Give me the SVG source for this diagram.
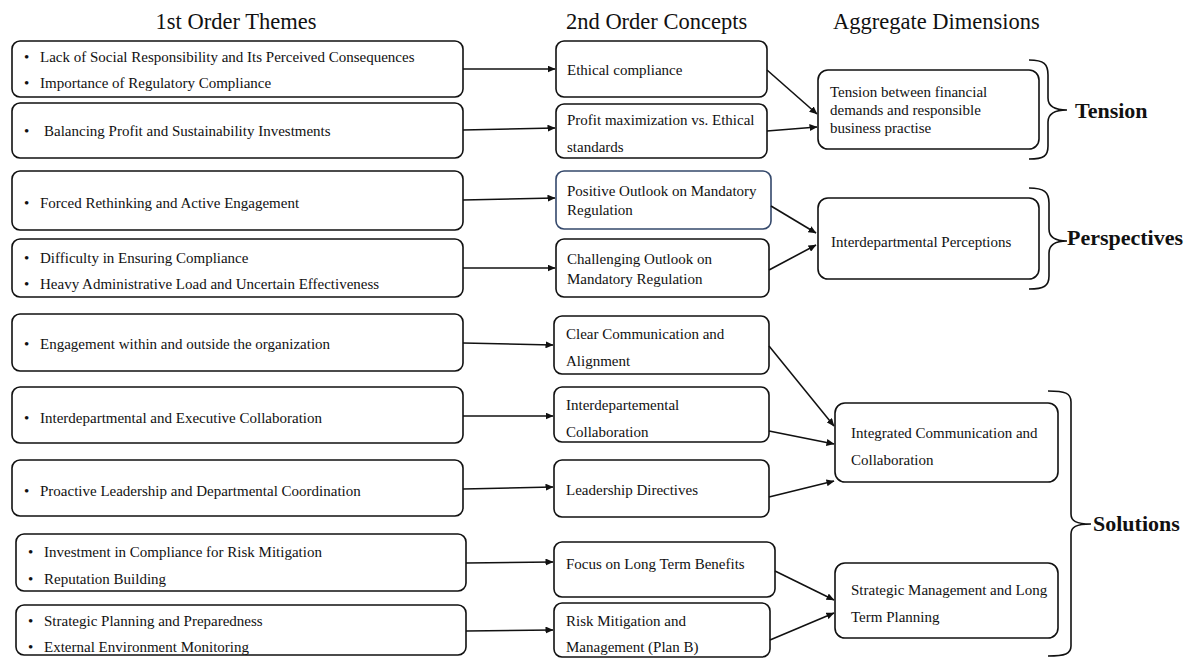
<svg xmlns="http://www.w3.org/2000/svg" width="1191" height="658" viewBox="0 0 1191 658">
<defs>
<marker id="ah" markerWidth="8" markerHeight="7" refX="7.5" refY="3.5" orient="auto" markerUnits="userSpaceOnUse">
<path d="M0,0 L8,3.5 L0,7 Z" fill="#111"/>
</marker>
<style>
text{font-family:"Liberation Serif","Times New Roman",serif;fill:#111;}
.h{font-size:22.5px;}
.t{font-size:15px;}
.b{font-size:22px;font-weight:bold;}
.box{fill:#fff;stroke:#111;stroke-width:1.6;}
.blue{stroke:#34486b;}
.c{fill:none;stroke:#111;stroke-width:1.6;marker-end:url(#ah);}
.br{fill:none;stroke:#111;stroke-width:1.6;}
</style>
</defs>
<rect width="1191" height="658" fill="#fff"/>
<g id="headers">
<text class="h" x="236" y="29" text-anchor="middle">1st Order Themes</text>
<text class="h" x="566" y="29">2nd Order Concepts</text>
<text class="h" x="833" y="29">Aggregate Dimensions</text>
</g>
<g id="L1"><rect class="box" x="12" y="41" width="451" height="56" rx="8"/>
<text class="t" x="24" y="62">•</text><text class="t" x="40" y="62">Lack of Social Responsibility and Its Perceived Consequences</text>
<text class="t" x="24" y="88">•</text><text class="t" x="40" y="88">Importance of Regulatory Compliance</text></g>
<g id="L2"><rect class="box" x="12" y="103" width="451" height="55" rx="8"/>
<text class="t" x="24" y="136">•</text><text class="t" x="44" y="136">Balancing Profit and Sustainability Investments</text></g>
<g id="L3"><rect class="box" x="12" y="171" width="451" height="59" rx="8"/>
<text class="t" x="24" y="208">•</text><text class="t" x="40" y="208">Forced Rethinking and Active Engagement</text></g>
<g id="L4"><rect class="box" x="12" y="239" width="451" height="58" rx="8"/>
<text class="t" x="24" y="263">•</text><text class="t" x="40" y="263">Difficulty in Ensuring Compliance</text>
<text class="t" x="24" y="289">•</text><text class="t" x="40" y="289">Heavy Administrative Load and Uncertain Effectiveness</text></g>
<g id="L5"><rect class="box" x="12" y="314" width="451" height="57" rx="8"/>
<text class="t" x="24" y="349">•</text><text class="t" x="40" y="349">Engagement within and outside the organization</text></g>
<g id="L6"><rect class="box" x="12" y="387" width="451" height="56" rx="8"/>
<text class="t" x="24" y="423">•</text><text class="t" x="40" y="423">Interdepartmental and Executive Collaboration</text></g>
<g id="L7"><rect class="box" x="12" y="460" width="451" height="56" rx="8"/>
<text class="t" x="24" y="496">•</text><text class="t" x="40" y="496">Proactive Leadership and Departmental Coordination</text></g>
<g id="L8"><rect class="box" x="16" y="534" width="450" height="57" rx="8"/>
<text class="t" x="28" y="557">•</text><text class="t" x="44" y="557">Investment in Compliance for Risk Mitigation</text>
<text class="t" x="28" y="584">•</text><text class="t" x="44" y="584">Reputation Building</text></g>
<g id="L9"><rect class="box" x="16" y="605" width="450" height="50" rx="8"/>
<text class="t" x="28" y="626">•</text><text class="t" x="44" y="626">Strategic Planning and Preparedness</text>
<text class="t" x="28" y="652">•</text><text class="t" x="44" y="652">External Environment Monitoring</text></g>

<g id="M1"><rect class="box" x="556" y="41" width="211" height="56" rx="8"/>
<text class="t" x="567" y="75">Ethical compliance</text></g>
<g id="M2"><rect class="box" x="556" y="104" width="211" height="54" rx="8"/>
<text class="t" x="567" y="125">Profit maximization vs. Ethical</text>
<text class="t" x="567" y="152">standards</text></g>
<g id="M3"><rect class="box blue" x="556" y="171" width="215" height="58" rx="8"/>
<text class="t" x="567" y="196">Positive Outlook on Mandatory</text>
<text class="t" x="567" y="215">Regulation</text></g>
<g id="M4"><rect class="box" x="556" y="239" width="213" height="58" rx="8"/>
<text class="t" x="567" y="264">Challenging Outlook on</text>
<text class="t" x="567" y="284">Mandatory Regulation</text></g>
<g id="M5"><rect class="box" x="554" y="316" width="215" height="58" rx="8"/>
<text class="t" x="566" y="339">Clear Communication and</text>
<text class="t" x="566" y="366">Alignment</text></g>
<g id="M6"><rect class="box" x="554" y="387" width="215" height="55" rx="8"/>
<text class="t" x="566" y="410">Interdepartemental</text>
<text class="t" x="566" y="437">Collaboration</text></g>
<g id="M7"><rect class="box" x="554" y="460" width="215" height="57" rx="8"/>
<text class="t" x="566" y="495">Leadership Directives</text></g>
<g id="M8"><rect class="box" x="554" y="542" width="221" height="55" rx="8"/>
<text class="t" x="566" y="569">Focus on Long Term Benefits</text></g>
<g id="M9"><rect class="box" x="554" y="603" width="216" height="54" rx="8"/>
<text class="t" x="566" y="626">Risk Mitigation and</text>
<text class="t" x="566" y="652">Management (Plan B)</text></g>

<g id="R1"><rect class="box" x="818" y="70" width="221" height="79" rx="10"/>
<text class="t" x="830" y="97">Tension between financial</text>
<text class="t" x="830" y="115">demands and responsible</text>
<text class="t" x="830" y="133">business practise</text></g>
<g id="R2"><rect class="box" x="818" y="198" width="221" height="81" rx="10"/>
<text class="t" x="831" y="247">Interdepartmental Perceptions</text></g>
<g id="R3"><rect class="box" x="835" y="403" width="223" height="79" rx="10"/>
<text class="t" x="851" y="438">Integrated Communication and</text>
<text class="t" x="851" y="465">Collaboration</text></g>
<g id="R4"><rect class="box" x="835" y="563" width="223" height="75" rx="10"/>
<text class="t" x="851" y="595">Strategic Management and Long</text>
<text class="t" x="851" y="622">Term Planning</text></g>

<g id="connectors">
<line class="c" x1="463" y1="69" x2="555" y2="69"/>
<line class="c" x1="463" y1="130" x2="555" y2="128"/>
<line class="c" x1="463" y1="200" x2="555" y2="198"/>
<line class="c" x1="463" y1="268" x2="555" y2="268"/>
<line class="c" x1="463" y1="343" x2="553" y2="345"/>
<line class="c" x1="463" y1="416" x2="553" y2="416"/>
<line class="c" x1="463" y1="489" x2="553" y2="487"/>
<line class="c" x1="466" y1="563" x2="553" y2="562"/>
<line class="c" x1="466" y1="631" x2="553" y2="630"/>
<line class="c" x1="767" y1="70" x2="817" y2="114"/>
<line class="c" x1="767" y1="131" x2="817" y2="127"/>
<line class="c" x1="771" y1="206" x2="816" y2="233"/>
<line class="c" x1="769" y1="270" x2="816" y2="245"/>
<line class="c" x1="769" y1="346" x2="834" y2="426"/>
<line class="c" x1="769" y1="431" x2="834" y2="444"/>
<line class="c" x1="769" y1="497" x2="834" y2="481"/>
<line class="c" x1="775" y1="571" x2="834" y2="600"/>
<line class="c" x1="770" y1="640" x2="834" y2="613"/>
</g>

<g id="brace-tension">
<path class="br" d="M1029,60 C1044,60 1048,64 1048,75 L1048,98 C1048,106 1054,110 1067,110 C1054,110 1048,114 1048,122 L1048,146 C1048,156 1044,159 1029,159"/>
<text class="b" x="1075" y="118">Tension</text>
</g>
<g id="brace-perspectives">
<path class="br" d="M1029,188 C1044,188 1049,192 1049,203 L1049,229 C1049,237 1055,241 1067,241 C1055,241 1049,245 1049,253 L1049,276 C1049,286 1044,289 1029,289"/>
<text class="b" x="1067" y="245">Perspectives</text>
</g>
<g id="brace-solutions">
<path class="br" d="M1048,391 C1065,391 1071,393 1071,402 L1071,514 C1071,521 1076,524 1091,524 C1076,524 1071,527 1071,534 L1071,646 C1071,654 1065,656 1048,656"/>
<text class="b" x="1093" y="531">Solutions</text>
</g>
</svg>
